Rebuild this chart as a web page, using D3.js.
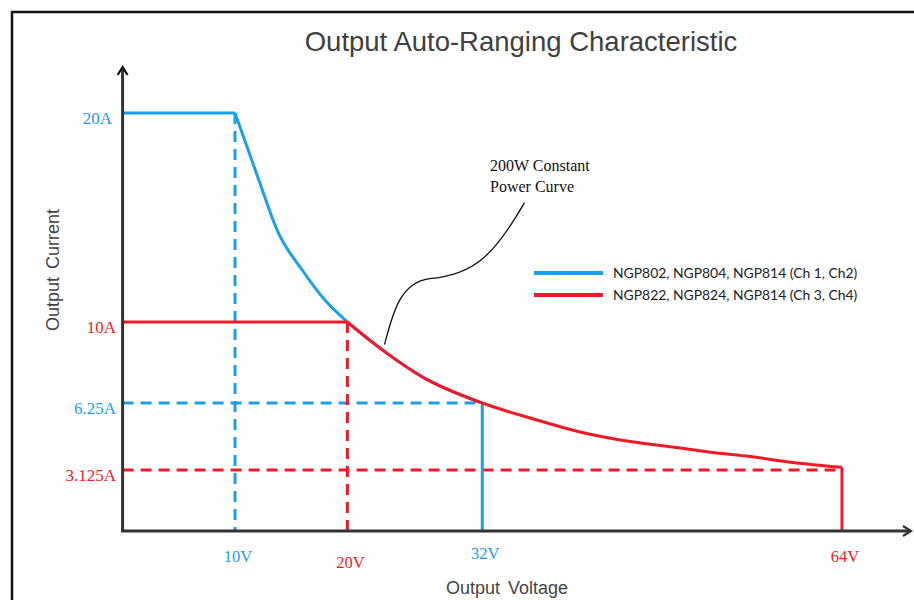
<!DOCTYPE html>
<html>
<head>
<meta charset="utf-8">
<script src="https://cdn.jsdelivr.net/npm/d3@7/dist/d3.min.js"></script>
<style>
  html, body { margin: 0; padding: 0; background: #fff; }
  svg { display: block; }
</style>
</head>
<body>
<svg id="chart" width="914" height="600"></svg>
<script>
// Voltage / current breakpoints shown on the axes
const voltageTicks = [10, 20, 32, 64];
const voltageLabels = ["10V", "20V", "32V", "64V"];
const voltageGroup = ["blue", "red", "blue", "red"];

const currentTicks = [20, 10, 6.25, 3.125];
const currentLabels = ["20A", "10A", "6.25A", "3.125A"];
const currentGroup = ["blue", "red", "blue", "red"];

// Ch1/Ch2 envelope: 20A limit, then the 200W power curve down to 32V
const blueVolts = [0, 10, 12.05, 13.83, 15.96, 18.0, 20, 23.5, 26.7, 32];
const blueAmps  = [20, 20, 16.9, 14.3, 12.5, 11.05, 10, 8.56, 7.45, 6.25];

// Ch3/Ch4 envelope: 10A limit, then the 200W power curve down to 64V
const redVolts = [0, 20, 23.5, 26.7, 32, 36.25, 40.7, 45.15, 49.6, 52.3, 55.8, 59.6, 64];
const redAmps  = [10, 10, 8.56, 7.45, 6.25, 5.55, 4.9, 4.45, 4.15, 3.95, 3.75, 3.48, 3.25];

const legendLabels = ["NGP802, NGP804, NGP814 (Ch 1, Ch2)", "NGP822, NGP824, NGP814 (Ch 3, Ch4)"];

const colors = { blue: "#1aa0e6", red: "#f01a26" };

const svg = d3.select("#chart");

// Outer frame
svg.append("rect")
  .attr("x", 12).attr("y", 12)
  .attr("width", 1000).attr("height", 1000)
  .attr("fill", "none").attr("stroke", "#111").attr("stroke-width", 2.5);

const x = d3.scaleLinear().domain([0, 70]).range([122.6, 909.4]);
const y = d3.scaleLinear().domain([0, 3.125, 6.25, 10, 20]).range([531, 470, 403, 322, 113]);

// Title
svg.append("text")
  .attr("x", 521).attr("y", 51)
  .attr("text-anchor", "middle")
  .attr("font-family", "Liberation Sans, Arial, sans-serif")
  .attr("font-size", 27.5)
  .attr("fill", "#404040")
  .text("Output Auto-Ranging Characteristic");

// Reference (dashed) lines
const dash = "11,7";
function dashed(x1, y1, x2, y2, col) {
  svg.append("line")
    .attr("x1", x(x1)).attr("y1", y(y1))
    .attr("x2", x(x2)).attr("y2", y(y2))
    .attr("stroke", colors[col]).attr("stroke-width", 3)
    .attr("stroke-dasharray", dash);
}
dashed(0, currentTicks[2], voltageTicks[2], currentTicks[2], "blue");
dashed(0, currentTicks[3], voltageTicks[3], currentTicks[3], "red");
dashed(voltageTicks[0], currentTicks[0], voltageTicks[0], 0, "blue");
dashed(voltageTicks[1], currentTicks[1], voltageTicks[1], 0, "red");

// Envelopes: straight current-limit segment, smooth power curve, vertical drop
const smooth = d3.line()
  .x(d => x(d[0])).y(d => y(d[1]))
  .curve(d3.curveMonotoneX);
const straight = d3.line()
  .x(d => x(d[0])).y(d => y(d[1]));

function envelope(volts, amps, col) {
  const pts = volts.map((v, i) => [v, amps[i]]);
  const g = svg.append("g")
    .attr("fill", "none").attr("stroke", colors[col])
    .attr("stroke-width", 3).attr("stroke-linejoin", "round");
  const last = pts[pts.length - 1];
  g.append("path").attr("d", straight(pts.slice(0, 2)));
  g.append("path").attr("d", smooth(pts.slice(1)));
  g.append("path").attr("d", straight([last, [last[0], 0]]));
}
envelope(blueVolts, blueAmps, "blue");
envelope(redVolts, redAmps, "red");

// Axes with arrow heads
const axisColor = "#333";
svg.append("line")
  .attr("x1", x(0)).attr("y1", y(0)).attr("x2", x(0)).attr("y2", 67)
  .attr("stroke", axisColor).attr("stroke-width", 3);
svg.append("line")
  .attr("x1", x(0) - 1.5).attr("y1", y(0)).attr("x2", 911).attr("y2", y(0))
  .attr("stroke", axisColor).attr("stroke-width", 3);
svg.append("path")
  .attr("d", `M${x(0) - 5},${75} L${x(0)},${67} L${x(0) + 5},${75}`)
  .attr("fill", "none").attr("stroke", "#111").attr("stroke-width", 2.2);
svg.append("path")
  .attr("d", `M${903},${y(0) - 5} L${911},${y(0)} L${903},${y(0) + 5}`)
  .attr("fill", "none").attr("stroke", "#333").attr("stroke-width", 2.2);

// Tick labels
const serif = "Liberation Serif, Times New Roman, serif";
svg.selectAll(".ylab").data(currentTicks).enter().append("text")
  .attr("x", (d, i) => i === 0 ? 112 : 116).attr("y", d => y(d) + 11)
  .attr("text-anchor", "end")
  .attr("font-family", serif).attr("font-size", 17)
  .attr("fill", (d, i) => colors[currentGroup[i]])
  .text((d, i) => currentLabels[i]);

const xLabelDy = [31, 37, 28, 31];
svg.selectAll(".xlab").data(voltageTicks).enter().append("text")
  .attr("x", d => x(d) + 3).attr("y", (d, i) => y(0) + xLabelDy[i])
  .attr("text-anchor", "middle")
  .attr("font-family", serif).attr("font-size", 16.5)
  .attr("fill", (d, i) => colors[voltageGroup[i]])
  .text((d, i) => voltageLabels[i]);

// Axis titles
svg.append("text")
  .attr("x", 507).attr("y", 594)
  .attr("text-anchor", "middle")
  .attr("font-family", "Liberation Sans, Arial, sans-serif")
  .attr("font-size", 18).attr("fill", "#444")
  .attr("word-spacing", 3)
  .text("Output Voltage");
svg.append("text")
  .attr("transform", "translate(59,270) rotate(-90)")
  .attr("text-anchor", "middle")
  .attr("font-family", "Liberation Sans, Arial, sans-serif")
  .attr("font-size", 18).attr("fill", "#444")
  .attr("word-spacing", 3)
  .text("Output Current");

// Legend
const legend = svg.append("g");
["blue", "red"].forEach((col, i) => {
  const ly = 273 + i * 22;
  legend.append("line")
    .attr("x1", 534).attr("x2", 603).attr("y1", ly).attr("y2", ly)
    .attr("stroke", colors[col]).attr("stroke-width", 4);
  legend.append("text")
    .attr("x", 613).attr("y", ly + 4.5)
    .attr("font-family", "Lato, Open Sans, sans-serif")
    .attr("font-size", 13.9).attr("fill", "#222")
    .text(legendLabels[i]);
});

// Constant power annotation with leader
const note = svg.append("g");
note.append("text")
  .attr("font-family", serif).attr("font-size", 16).attr("fill", "#111")
  .selectAll("tspan").data(["200W Constant", "Power Curve"]).enter().append("tspan")
  .attr("x", 490).attr("y", (d, i) => 171 + i * 21)
  .text(d => d);
const ax = x(23.3), ay = y(8.95);
note.append("path")
  .attr("d", `M${ax + 140},${ay - 142} C${ax + 110},${ay - 90} ${ax + 90},${ay - 70} ${ax + 45},${ay - 66}
             C${ax + 15},${ay - 62} ${ax + 8},${ay - 30} ${ax},${ay}`)
  .attr("fill", "none").attr("stroke", "#111").attr("stroke-width", 1.3);
</script>
</body>
</html>
